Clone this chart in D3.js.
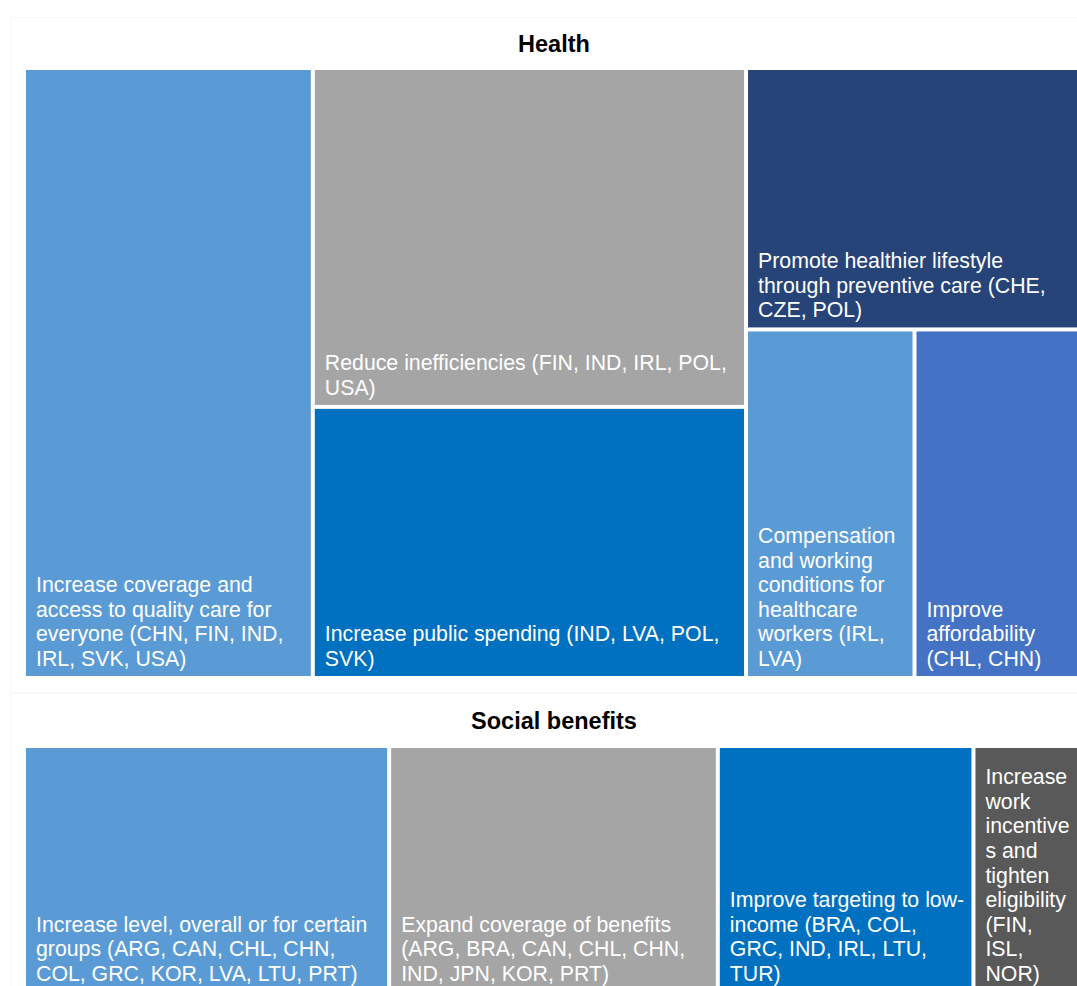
<!DOCTYPE html>
<html>
<head>
<meta charset="utf-8">
<script src="https://cdn.jsdelivr.net/npm/d3@7"></script>
<style>
  body { margin: 0; background: #fff; }
  svg { display: block; font-family: "Liberation Sans", Arial, sans-serif; }
</style>
</head>
<body>
<script>
let width = 1077
let height = 986

// Health: number of countries per reform area
const healthLabels = [
  "Increase coverage and access to quality care for everyone (CHN, FIN, IND, IRL, SVK, USA)",
  "Reduce inefficiencies (FIN, IND, IRL, POL, USA)",
  "Increase public spending (IND, LVA, POL, SVK)",
  "Promote healthier lifestyle through preventive care (CHE, CZE, POL)",
  "Compensation and working conditions for healthcare workers (IRL, LVA)",
  "Improve affordability (CHL, CHN)"
]
const healthValues = [6, 5, 4, 3, 2, 2]
const healthColumn = [0, 1, 1, 2, 2, 2]
const healthRow = [0, 0, 1, 0, 1, 1]
const healthColors = ["#5B9BD5", "#A5A5A5", "#0070C0", "#264478", "#5B9BD5", "#4472C4"]

// Social benefits
const socialLabels = [
  "Increase level, overall or for certain groups (ARG, CAN, CHL, CHN, COL, GRC, KOR, LVA, LTU, PRT)",
  "Expand coverage of benefits (ARG, BRA, CAN, CHL, CHN, IND, JPN, KOR, PRT)",
  "Improve targeting to low-income (BRA, COL, GRC, IND, IRL, LTU, TUR)",
  "Increase work incentives and tighten eligibility (FIN, ISL, NOR)"
]
const socialValues = [10, 9, 7, 3]
const socialColumn = [0, 1, 2, 3]
const socialRow = [0, 0, 0, 0]
const socialColors = ["#5B9BD5", "#A5A5A5", "#0070C0", "#595959"]

const fontSize = 21.3
const lineHeight = 24.6

let svg = d3.select("body").append("svg")
  .attr("width", width)
  .attr("height", height)

// faint panel frames
svg.append("rect")
  .attr("x", 10.5).attr("y", 17.5)
  .attr("width", 1100).attr("height", 675)
  .attr("fill", "none").attr("stroke", "#f7f7f7")
svg.append("rect")
  .attr("x", 10.5).attr("y", 693.5)
  .attr("width", 1100).attr("height", 400)
  .attr("fill", "none").attr("stroke", "#f7f7f7")

// group items into columns -> rows -> leaves
function buildTree(labels, values, cols, rows) {
  let root = { children: [] }
  labels.forEach((label, i) => {
    let col = root.children[cols[i]] || (root.children[cols[i]] = { children: [] })
    let row = col.children[rows[i]] || (col.children[rows[i]] = { children: [] })
    row.children.push({ name: label, value: values[i], index: i })
  })
  return root
}

function wrapLines(text, maxW, measure) {
  // split on spaces, and after hyphens without a space
  let tokens = []
  text.split(" ").forEach(word => {
    let parts = word.split(/(?<=-)/)
    parts.forEach((p, j) => tokens.push({ t: p, sep: j == 0 ? " " : "" }))
  })
  let lines = []
  let cur = ""
  tokens.forEach(tok => {
    let cand = cur ? cur + tok.sep + tok.t : tok.t
    if (measure(cand) <= maxW) {
      cur = cand
      return
    }
    if (cur) lines.push(cur)
    cur = tok.t
    while (measure(cur) > maxW && cur.length > 1) {
      let k = cur.length - 1
      while (k > 1 && measure(cur.slice(0, k)) > maxW) k--
      lines.push(cur.slice(0, k))
      cur = cur.slice(k)
    }
  })
  if (cur) lines.push(cur)
  return lines
}

function drawTreemap(title, titleY, x, y, w, h, labels, values, cols, rows, colors) {
  svg.append("text")
    .attr("x", 554)
    .attr("y", titleY)
    .attr("text-anchor", "middle")
    .style("font-weight", "bold")
    .style("font-size", "23.5px")
    .attr("fill", "#000")
    .text(title)

  let root = d3.hierarchy(buildTree(labels, values, cols, rows))
    .sum(d => d.value || 0)

  d3.treemap()
    .tile(d3.treemapSliceDice)
    .size([w, h])
    .paddingInner(4)(root)

  let color = d3.scaleOrdinal().domain(labels).range(colors)

  let g = svg.append("g").attr("transform", `translate(${x},${y})`)

  let cell = g.selectAll("g.cell")
    .data(root.leaves()).enter()
    .append("g")
    .attr("class", "cell")

  cell.append("rect")
    .attr("x", d => d.x0)
    .attr("y", d => d.y0)
    .attr("width", d => d.x1 - d.x0)
    .attr("height", d => d.y1 - d.y0)
    .attr("fill", d => color(d.data.name))

  cell.each(function (d) {
    let t = d3.select(this).append("text")
      .attr("fill", "#fff")
      .style("font-size", fontSize + "px")
    let probe = t.append("tspan")
    let measure = s => { probe.text(s); return probe.node().getComputedTextLength() }
    let lines = wrapLines(d.data.name, d.x1 - d.x0 - 16, measure)
    probe.remove()
    let lastY = d.y1 - 10
    lines.forEach((line, i) => {
      t.append("tspan")
        .attr("x", d.x0 + 10)
        .attr("y", lastY - (lines.length - 1 - i) * lineHeight)
        .text(line)
    })
  })
}

drawTreemap("Health", 52, 26, 70, 1055, 606, healthLabels, healthValues, healthColumn, healthRow, healthColors)
drawTreemap("Social benefits", 729, 26, 748, 1055, 243, socialLabels, socialValues, socialColumn, socialRow, socialColors)
</script>
</body>
</html>
